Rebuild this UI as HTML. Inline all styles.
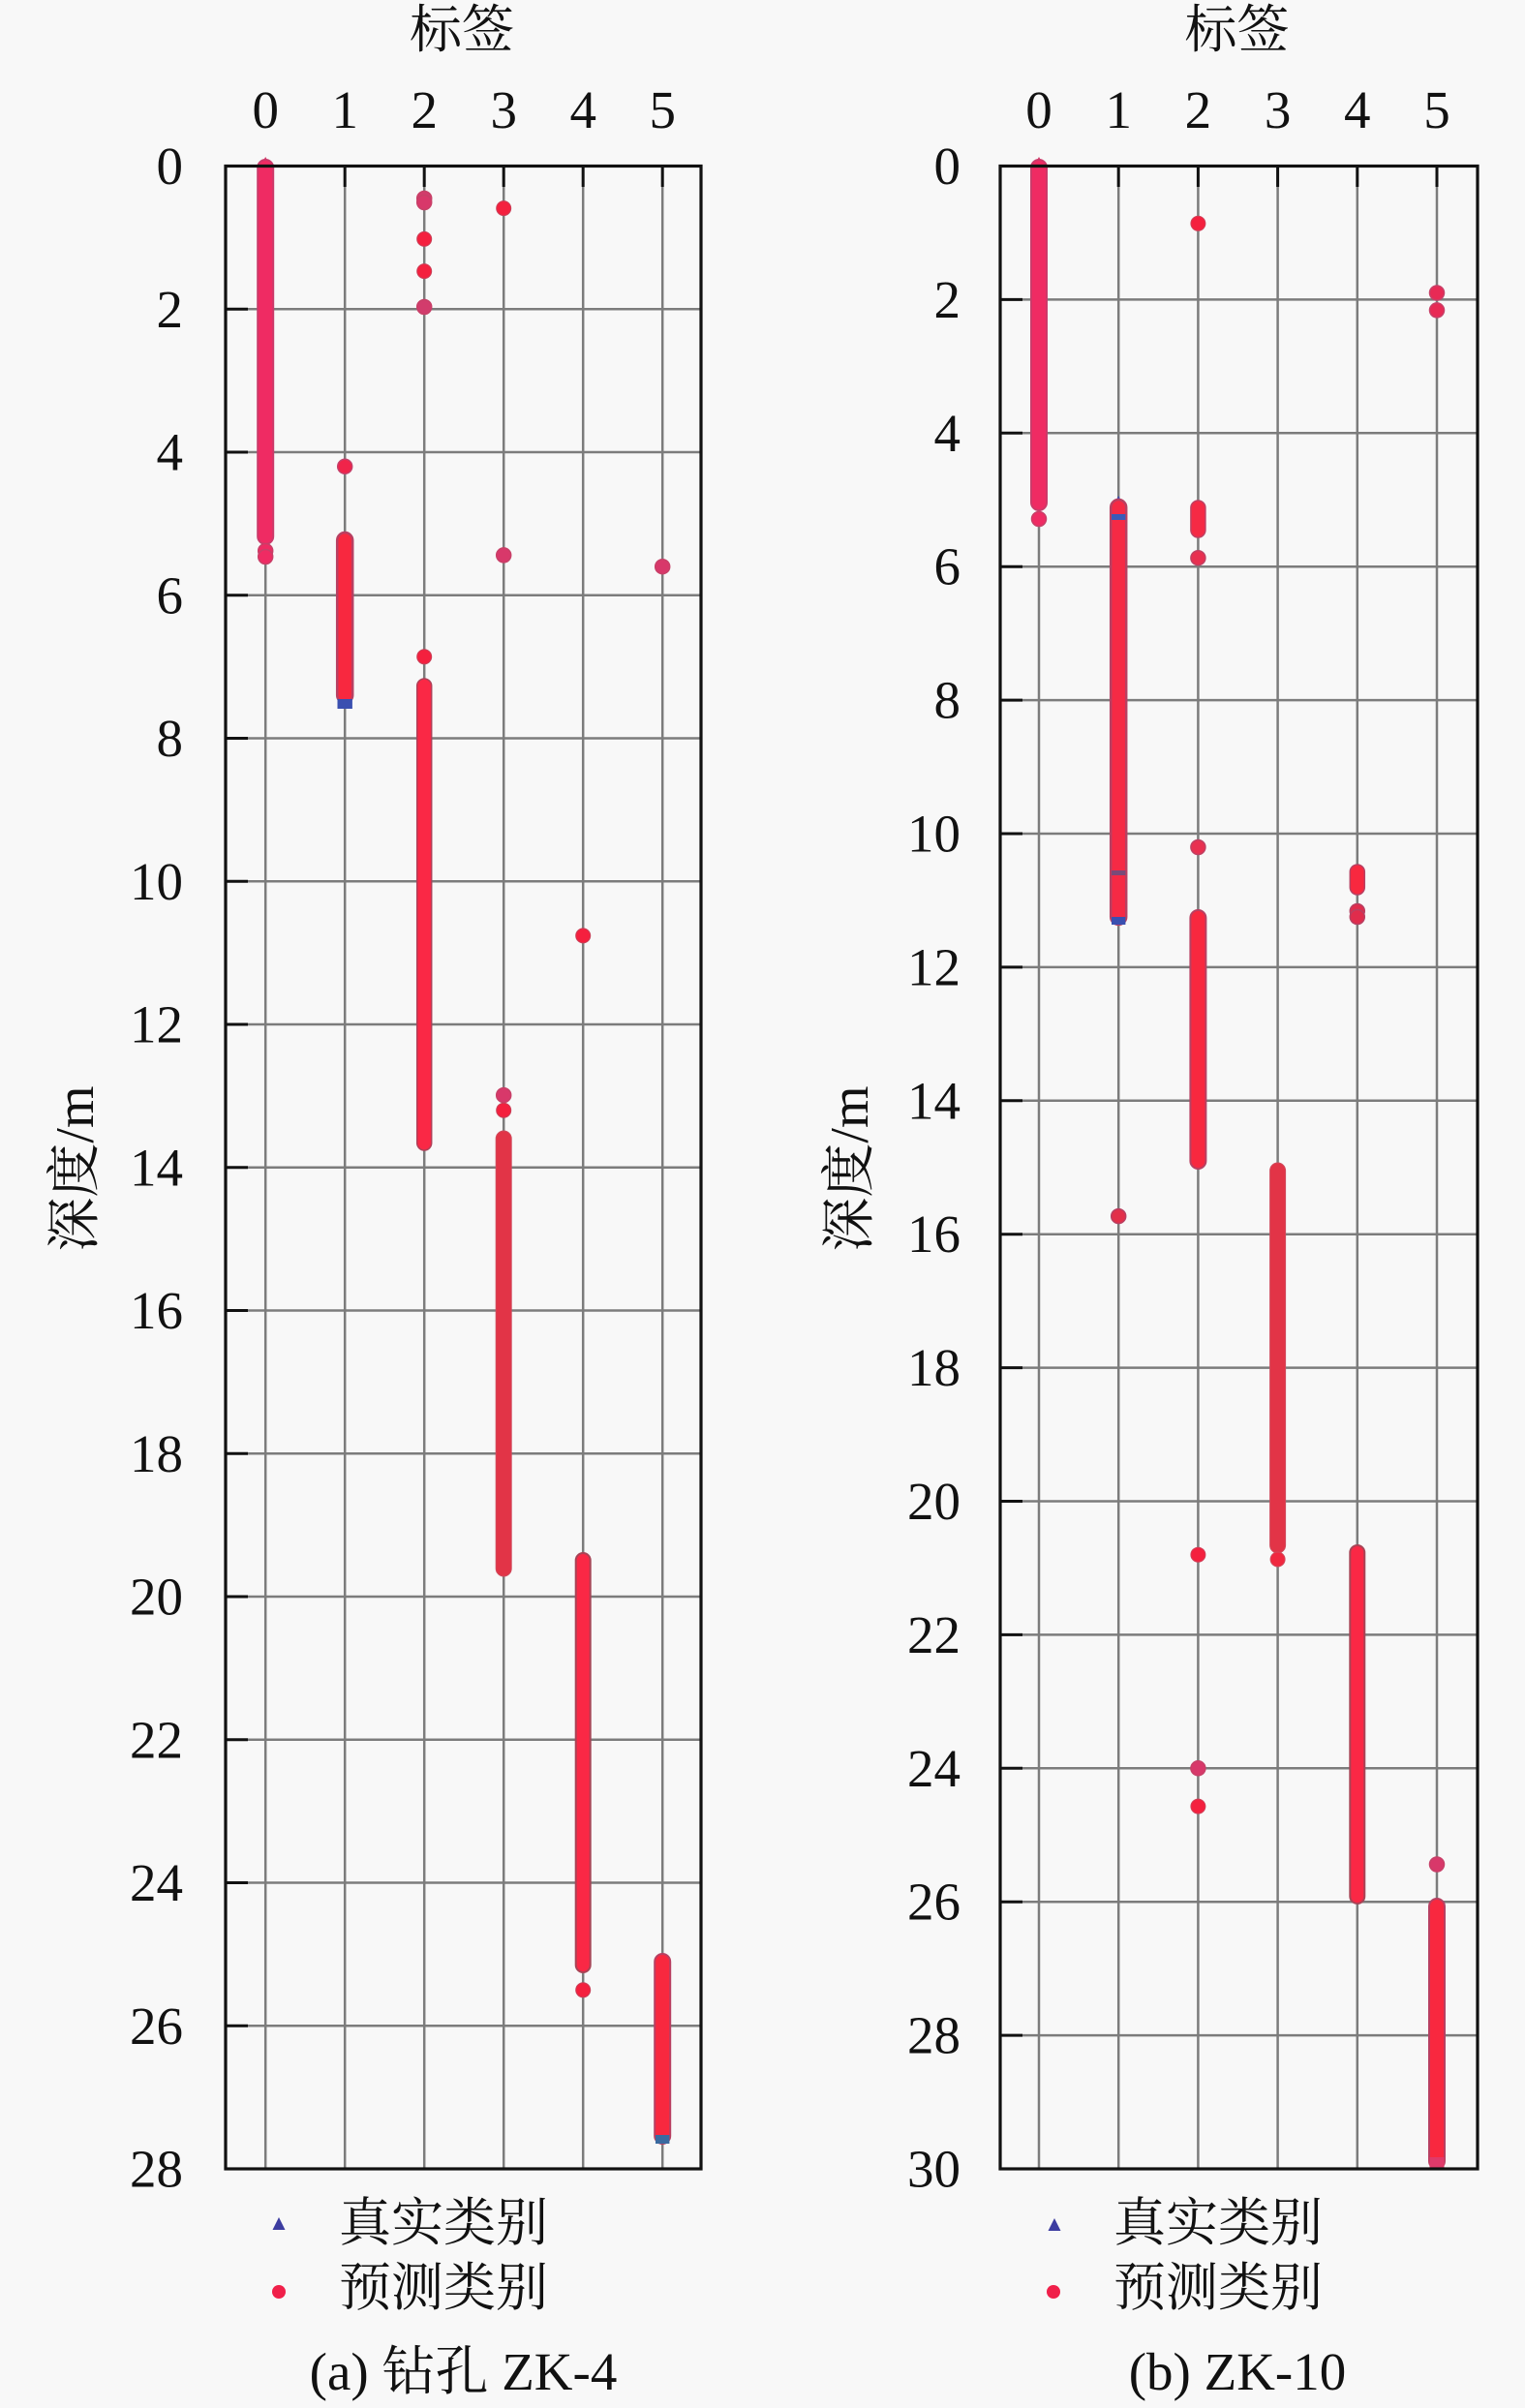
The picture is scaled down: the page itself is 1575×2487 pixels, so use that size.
<!DOCTYPE html>
<html><head><meta charset="utf-8"><style>
html,body{margin:0;padding:0;background:#f8f8f8;}
svg{display:block;}
text{font-family:"Liberation Serif","Noto Serif CJK SC",serif;fill:#111;}
</style></head><body>
<svg width="1575" height="2487" viewBox="0 0 1575 2487" xmlns="http://www.w3.org/2000/svg">
<rect width="1575" height="2487" fill="#f8f8f8"/>

<!-- ================= LEFT PANEL ================= -->
<g stroke="#7c7c7c" stroke-width="2.5">
  <line x1="233" y1="319.25" x2="724" y2="319.25"/>
  <line x1="233" y1="467" x2="724" y2="467"/>
  <line x1="233" y1="614.75" x2="724" y2="614.75"/>
  <line x1="233" y1="762.5" x2="724" y2="762.5"/>
  <line x1="233" y1="910.25" x2="724" y2="910.25"/>
  <line x1="233" y1="1058" x2="724" y2="1058"/>
  <line x1="233" y1="1205.75" x2="724" y2="1205.75"/>
  <line x1="233" y1="1353.5" x2="724" y2="1353.5"/>
  <line x1="233" y1="1501.25" x2="724" y2="1501.25"/>
  <line x1="233" y1="1649" x2="724" y2="1649"/>
  <line x1="233" y1="1796.75" x2="724" y2="1796.75"/>
  <line x1="233" y1="1944.5" x2="724" y2="1944.5"/>
  <line x1="233" y1="2092.25" x2="724" y2="2092.25"/>
  <line x1="274.2" y1="171.5" x2="274.2" y2="2240"/>
  <line x1="356.2" y1="171.5" x2="356.2" y2="2240"/>
  <line x1="438.2" y1="171.5" x2="438.2" y2="2240"/>
  <line x1="520.2" y1="171.5" x2="520.2" y2="2240"/>
  <line x1="602.2" y1="171.5" x2="602.2" y2="2240"/>
  <line x1="684.2" y1="171.5" x2="684.2" y2="2240"/>
</g>
<g stroke="#111" stroke-width="3">
  <line x1="274.2" y1="171.5" x2="274.2" y2="193"/>
  <line x1="356.2" y1="171.5" x2="356.2" y2="193"/>
  <line x1="438.2" y1="171.5" x2="438.2" y2="193"/>
  <line x1="520.2" y1="171.5" x2="520.2" y2="193"/>
  <line x1="602.2" y1="171.5" x2="602.2" y2="193"/>
  <line x1="684.2" y1="171.5" x2="684.2" y2="193"/>
  <line x1="233" y1="319.25" x2="256" y2="319.25"/>
  <line x1="233" y1="467" x2="256" y2="467"/>
  <line x1="233" y1="614.75" x2="256" y2="614.75"/>
  <line x1="233" y1="762.5" x2="256" y2="762.5"/>
  <line x1="233" y1="910.25" x2="256" y2="910.25"/>
  <line x1="233" y1="1058" x2="256" y2="1058"/>
  <line x1="233" y1="1205.75" x2="256" y2="1205.75"/>
  <line x1="233" y1="1353.5" x2="256" y2="1353.5"/>
  <line x1="233" y1="1501.25" x2="256" y2="1501.25"/>
  <line x1="233" y1="1649" x2="256" y2="1649"/>
  <line x1="233" y1="1796.75" x2="256" y2="1796.75"/>
  <line x1="233" y1="1944.5" x2="256" y2="1944.5"/>
  <line x1="233" y1="2092.25" x2="256" y2="2092.25"/>
</g>

<!-- left data -->
<g>
  <!-- c0 -->
  <polygon points="274.2,162 266,176 282.4,176" fill="#d03a6a"/>
  <rect x="266.2" y="165" width="16" height="397" rx="8" fill="#ef2b63" stroke="#cc3a6a" stroke-width="2"/>
  <circle cx="274.2" cy="569" r="7.5" fill="#ef2b63" stroke="#c84068" stroke-width="1.5"/>
  <circle cx="274.2" cy="575" r="7.5" fill="#ef2b63" stroke="#c84068" stroke-width="1.5"/>
  <!-- c1 -->
  <circle cx="356.2" cy="481.8" r="7.5" fill="#f0244a" stroke="#c4406a" stroke-width="1.5"/>
  <rect x="348.2" y="550" width="16" height="176" rx="8" fill="#f8283f" stroke="#b84062" stroke-width="2.5"/>
  <rect x="348.5" y="722" width="15.4" height="10" fill="#3a4fb0"/>
  <!-- c2 -->
  <circle cx="438.2" cy="205" r="7.5" fill="#d23c6c" stroke="#c84068" stroke-width="1.5"/>
  <circle cx="438.2" cy="209" r="7.5" fill="#d8386a" stroke="#c84068" stroke-width="1.5"/>
  <circle cx="438.2" cy="246.9" r="7.5" fill="#f4203e" stroke="#c84058" stroke-width="1"/>
  <circle cx="438.2" cy="280.1" r="7.5" fill="#f4203e" stroke="#c84058" stroke-width="1"/>
  <circle cx="438.2" cy="317" r="7.5" fill="#d23c6c" stroke="#c84068" stroke-width="1.5"/>
  <circle cx="438.2" cy="678.3" r="7.5" fill="#f4203e" stroke="#c84058" stroke-width="1"/>
  <rect x="430.7" y="701" width="15" height="487" rx="7.5" fill="#fa2845" stroke="#b04058" stroke-width="1.5"/>
  <!-- c3 -->
  <circle cx="520.2" cy="215.1" r="7.5" fill="#f4203e" stroke="#c84058" stroke-width="1"/>
  <circle cx="520.2" cy="573.4" r="7.5" fill="#d8386a" stroke="#c84068" stroke-width="1.5"/>
  <circle cx="520.2" cy="1131.1" r="7.5" fill="#d8386a" stroke="#c84068" stroke-width="1.5"/>
  <circle cx="520.2" cy="1146.7" r="7.5" fill="#f4203e" stroke="#c84058" stroke-width="1"/>
  <rect x="512.2" y="1168" width="16" height="460" rx="8" fill="#e23447" stroke="#d04a5c" stroke-width="1"/>
  <!-- c4 -->
  <circle cx="602.2" cy="966.4" r="7.5" fill="#f4203e" stroke="#c84058" stroke-width="1"/>
  <rect x="594.7" y="1604" width="15" height="433" rx="7.5" fill="#fa2845" stroke="#a84456" stroke-width="2"/>
  <circle cx="602.2" cy="2055.3" r="7.5" fill="#f4203e" stroke="#c84058" stroke-width="1"/>
  <!-- c5 -->
  <circle cx="684.2" cy="585.2" r="7.5" fill="#d8386a" stroke="#c84068" stroke-width="1.5"/>
  <rect x="676.2" y="2018" width="16" height="196" rx="8" fill="#f8283f" stroke="#b84062" stroke-width="2"/>
  <rect x="677" y="2205" width="14.4" height="9" fill="#3a6aa0"/>
</g>
<rect x="233" y="171.5" width="491" height="2068.5" fill="none" stroke="#111" stroke-width="3.2"/>

<!-- left labels -->
<text x="477" y="49" font-size="54" text-anchor="middle">标签</text>
<g font-size="55" text-anchor="middle">
  <text x="274.2" y="132">0</text>
  <text x="356.2" y="132">1</text>
  <text x="438.2" y="132">2</text>
  <text x="520.2" y="132">3</text>
  <text x="602.2" y="132">4</text>
  <text x="684.2" y="132">5</text>
</g>
<g font-size="55" text-anchor="end">
  <text x="189" y="190">0</text>
  <text x="189" y="337.75">2</text>
  <text x="189" y="485.5">4</text>
  <text x="189" y="633.25">6</text>
  <text x="189" y="781">8</text>
  <text x="189" y="928.75">10</text>
  <text x="189" y="1076.5">12</text>
  <text x="189" y="1224.25">14</text>
  <text x="189" y="1372">16</text>
  <text x="189" y="1519.75">18</text>
  <text x="189" y="1667.5">20</text>
  <text x="189" y="1815.25">22</text>
  <text x="189" y="1963">24</text>
  <text x="189" y="2110.75">26</text>
  <text x="189" y="2258.5">28</text>
</g>
<text transform="translate(96,1207) rotate(-90)" font-size="56" text-anchor="middle">深度/m</text>

<!-- left legend -->
<polygon points="288,2290 281.5,2303 294.5,2303" fill="#3c3ca0"/>
<circle cx="288" cy="2367" r="7" fill="#f0204a"/>
<text x="350" y="2314" font-size="54">真实类别</text>
<text x="350" y="2381" font-size="54">预测类别</text>
<text x="478.5" y="2468" font-size="55" text-anchor="middle">(a) 钻孔 ZK-4</text>

<!-- ================= RIGHT PANEL ================= -->
<g stroke="#7c7c7c" stroke-width="2.5">
  <line x1="1033" y1="309.4" x2="1526" y2="309.4"/>
  <line x1="1033" y1="447.3" x2="1526" y2="447.3"/>
  <line x1="1033" y1="585.2" x2="1526" y2="585.2"/>
  <line x1="1033" y1="723.1" x2="1526" y2="723.1"/>
  <line x1="1033" y1="861" x2="1526" y2="861"/>
  <line x1="1033" y1="998.9" x2="1526" y2="998.9"/>
  <line x1="1033" y1="1136.8" x2="1526" y2="1136.8"/>
  <line x1="1033" y1="1274.7" x2="1526" y2="1274.7"/>
  <line x1="1033" y1="1412.6" x2="1526" y2="1412.6"/>
  <line x1="1033" y1="1550.5" x2="1526" y2="1550.5"/>
  <line x1="1033" y1="1688.4" x2="1526" y2="1688.4"/>
  <line x1="1033" y1="1826.3" x2="1526" y2="1826.3"/>
  <line x1="1033" y1="1964.2" x2="1526" y2="1964.2"/>
  <line x1="1033" y1="2102.1" x2="1526" y2="2102.1"/>
  <line x1="1073" y1="171.5" x2="1073" y2="2240"/>
  <line x1="1155.2" y1="171.5" x2="1155.2" y2="2240"/>
  <line x1="1237.4" y1="171.5" x2="1237.4" y2="2240"/>
  <line x1="1319.6" y1="171.5" x2="1319.6" y2="2240"/>
  <line x1="1401.8" y1="171.5" x2="1401.8" y2="2240"/>
  <line x1="1484" y1="171.5" x2="1484" y2="2240"/>
</g>
<g stroke="#111" stroke-width="3">
  <line x1="1073" y1="171.5" x2="1073" y2="193"/>
  <line x1="1155.2" y1="171.5" x2="1155.2" y2="193"/>
  <line x1="1237.4" y1="171.5" x2="1237.4" y2="193"/>
  <line x1="1319.6" y1="171.5" x2="1319.6" y2="193"/>
  <line x1="1401.8" y1="171.5" x2="1401.8" y2="193"/>
  <line x1="1484" y1="171.5" x2="1484" y2="193"/>
  <line x1="1033" y1="309.4" x2="1056" y2="309.4"/>
  <line x1="1033" y1="447.3" x2="1056" y2="447.3"/>
  <line x1="1033" y1="585.2" x2="1056" y2="585.2"/>
  <line x1="1033" y1="723.1" x2="1056" y2="723.1"/>
  <line x1="1033" y1="861" x2="1056" y2="861"/>
  <line x1="1033" y1="998.9" x2="1056" y2="998.9"/>
  <line x1="1033" y1="1136.8" x2="1056" y2="1136.8"/>
  <line x1="1033" y1="1274.7" x2="1056" y2="1274.7"/>
  <line x1="1033" y1="1412.6" x2="1056" y2="1412.6"/>
  <line x1="1033" y1="1550.5" x2="1056" y2="1550.5"/>
  <line x1="1033" y1="1688.4" x2="1056" y2="1688.4"/>
  <line x1="1033" y1="1826.3" x2="1056" y2="1826.3"/>
  <line x1="1033" y1="1964.2" x2="1056" y2="1964.2"/>
  <line x1="1033" y1="2102.1" x2="1056" y2="2102.1"/>
</g>

<!-- right data -->
<g>
  <!-- c0 -->
  <polygon points="1073,162 1064.8,176 1081.2,176" fill="#d03a6a"/>
  <rect x="1065" y="165" width="16" height="362" rx="8" fill="#ef2b63" stroke="#cc3a6a" stroke-width="2"/>
  <circle cx="1073" cy="536" r="7.5" fill="#ef2b63" stroke="#c84068" stroke-width="1.5"/>
  <!-- c1 -->
  <polygon points="1155.2,512 1147.5,526 1162.9,526" fill="#3a4fb0"/>
  <rect x="1147.2" y="516" width="16" height="439" rx="8" fill="#f52a45" stroke="#b84062" stroke-width="2.5"/>
  <rect x="1148" y="531" width="14.4" height="6" fill="#3a5ab8"/>
  <rect x="1148" y="899" width="14.4" height="5" fill="#7a4a78"/>
  <rect x="1148" y="947" width="14.4" height="8" fill="#3a4fb0"/>
  <circle cx="1155.2" cy="1256.1" r="7.5" fill="#e2304a" stroke="#b84062" stroke-width="1.5"/>
  <!-- c2 -->
  <circle cx="1237.4" cy="230.8" r="7.5" fill="#f4203e" stroke="#d04058" stroke-width="1"/>
  <rect x="1229.9" y="517" width="15" height="38" rx="7.5" fill="#f52a45" stroke="#c04062" stroke-width="1.5"/>
  <circle cx="1237.4" cy="576.2" r="7.5" fill="#e83050" stroke="#c04062" stroke-width="1.5"/>
  <circle cx="1237.4" cy="875" r="7.5" fill="#e83050" stroke="#c04062" stroke-width="1.5"/>
  <rect x="1229.4" y="940" width="16" height="267" rx="8" fill="#f8283f" stroke="#b84062" stroke-width="2"/>
  <circle cx="1237.4" cy="1605.7" r="7.5" fill="#f4203e" stroke="#d04058" stroke-width="1"/>
  <circle cx="1237.4" cy="1826.3" r="7.5" fill="#d8386a" stroke="#c84068" stroke-width="1.5"/>
  <circle cx="1237.4" cy="1865.6" r="7.5" fill="#f4203e" stroke="#d04058" stroke-width="1"/>
  <!-- c3 -->
  <rect x="1311.6" y="1201" width="16" height="403" rx="8" fill="#e23447" stroke="#d04a5c" stroke-width="1"/>
  <circle cx="1319.6" cy="1610.5" r="7.5" fill="#f0283f" stroke="#d04a5c" stroke-width="1"/>
  <!-- c4 -->
  <rect x="1394.3" y="893" width="15" height="31" rx="7.5" fill="#f8283f" stroke="#b84062" stroke-width="1.5"/>
  <circle cx="1401.8" cy="941" r="7.5" fill="#e02c4c" stroke="#b84062" stroke-width="1.5"/>
  <circle cx="1401.8" cy="947" r="7.5" fill="#e02c4c" stroke="#b84062" stroke-width="1.5"/>
  <rect x="1394.3" y="1596" width="15" height="370" rx="7.5" fill="#fa2845" stroke="#a84456" stroke-width="2"/>
  <!-- c5 -->
  <circle cx="1484" cy="302.5" r="7.5" fill="#e82a55" stroke="#c84068" stroke-width="1.5"/>
  <circle cx="1484" cy="320.4" r="7.5" fill="#e82a55" stroke="#c84068" stroke-width="1.5"/>
  <circle cx="1484" cy="1925.5" r="7.5" fill="#d8386a" stroke="#c84068" stroke-width="1.5"/>
  <rect x="1476" y="1961" width="16" height="279" rx="8" fill="#f8283f" stroke="#b84062" stroke-width="2"/>
  <rect x="1476.5" y="2228" width="15" height="11" fill="#e03a6a"/>
</g>
<rect x="1033" y="171.5" width="493" height="2068.5" fill="none" stroke="#111" stroke-width="3.2"/>

<!-- right labels -->
<text x="1277.5" y="49" font-size="54" text-anchor="middle">标签</text>
<g font-size="55" text-anchor="middle">
  <text x="1073" y="132">0</text>
  <text x="1155.2" y="132">1</text>
  <text x="1237.4" y="132">2</text>
  <text x="1319.6" y="132">3</text>
  <text x="1401.8" y="132">4</text>
  <text x="1484" y="132">5</text>
</g>
<g font-size="55" text-anchor="end">
  <text x="992" y="190">0</text>
  <text x="992" y="327.9">2</text>
  <text x="992" y="465.8">4</text>
  <text x="992" y="603.7">6</text>
  <text x="992" y="741.6">8</text>
  <text x="992" y="879.5">10</text>
  <text x="992" y="1017.4">12</text>
  <text x="992" y="1155.3">14</text>
  <text x="992" y="1293.2">16</text>
  <text x="992" y="1431.1">18</text>
  <text x="992" y="1569">20</text>
  <text x="992" y="1706.9">22</text>
  <text x="992" y="1844.8">24</text>
  <text x="992" y="1982.7">26</text>
  <text x="992" y="2120.6">28</text>
  <text x="992" y="2258.5">30</text>
</g>
<text transform="translate(896,1207) rotate(-90)" font-size="56" text-anchor="middle">深度/m</text>

<!-- right legend -->
<polygon points="1089,2291 1082.5,2304 1095.5,2304" fill="#3c3ca0"/>
<circle cx="1088" cy="2367" r="7" fill="#f0204a"/>
<text x="1150" y="2314" font-size="54">真实类别</text>
<text x="1150" y="2381" font-size="54">预测类别</text>
<text x="1278" y="2468" font-size="55" text-anchor="middle">(b) ZK-10</text>
</svg>
</body></html>
